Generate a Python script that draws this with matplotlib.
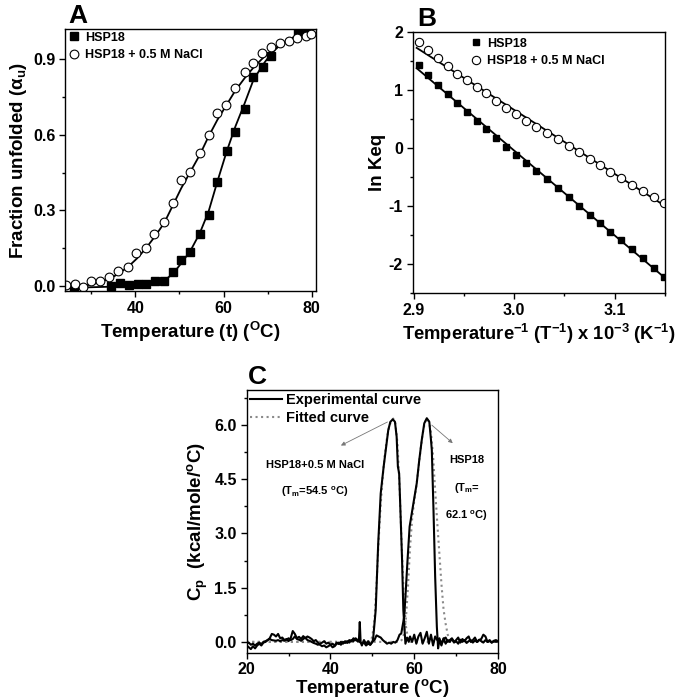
import matplotlib
matplotlib.use('Agg')
import matplotlib.pyplot as plt
from matplotlib.ticker import MultipleLocator, FormatStrFormatter

plt.rcParams['font.family'] = ['Liberation Sans', 'DejaVu Sans']
plt.rcParams['font.weight'] = 'bold'
plt.rcParams['mathtext.fontset'] = 'custom'
plt.rcParams['mathtext.rm'] = 'Liberation Sans:bold'
plt.rcParams['mathtext.it'] = 'Liberation Sans:bold'
plt.rcParams['mathtext.bf'] = 'Liberation Sans:bold'
plt.rcParams['mathtext.default'] = 'rm'
plt.rcParams['axes.unicode_minus'] = False

# ---- panel A : fraction unfolded ----
a_temp_sq = [26.1, 34.4, 36.4, 38.5, 40.5, 42.5, 44.5, 46.5, 48.5, 50.4, 52.5, 54.6, 56.6,
             58.6, 60.7, 62.7, 64.8, 66.8, 68.9, 70.9, 76.9, 78.9]
a_hsp18 = [-0.01, 0.001, 0.011, 0.004, 0.009, 0.007, 0.020, 0.021, 0.057, 0.102, 0.136, 0.205,
           0.282, 0.414, 0.535, 0.610, 0.701, 0.828, 0.871, 0.913, 1.007, 1.0]
a_temp_ci = [24.3, 26.2, 28.1, 30.0, 32.0, 34.1, 36.1, 38.2, 40.2, 42.3, 44.2, 46.4, 48.5,
             50.4, 52.5, 54.6, 56.6, 58.6, 60.6, 62.7, 64.8, 66.8, 68.8, 70.8, 72.8, 74.8,
             76.8, 78.8, 79.8]
a_nacl = [0.004, 0.008, -0.003, 0.021, 0.021, 0.037, 0.061, 0.074, 0.130, 0.150, 0.206, 0.255,
          0.331, 0.421, 0.454, 0.527, 0.600, 0.686, 0.719, 0.785, 0.851, 0.887, 0.926, 0.950,
          0.963, 0.974, 0.984, 0.994, 1.0]
# fitted curves
a_fit_t = [24.0, 26.0, 28.2, 30.2, 32.2, 34.3, 36.3, 38.4, 40.4, 42.4, 44.4, 46.5, 48.5, 50.4,
           52.5, 54.6, 56.6, 58.6, 60.7, 62.7, 64.8, 66.8, 68.9, 70.9, 72.9, 74.9, 76.9, 80.0]
a_fit_nacl = [-0.009, -0.005, 0.0, 0.007, 0.016, 0.03, 0.05, 0.077, 0.11, 0.15, 0.196, 0.249,
              0.32, 0.388, 0.454, 0.52, 0.593, 0.659, 0.719, 0.776, 0.825, 0.867, 0.904, 0.934,
              0.957, 0.974, 0.987, 1.0]
a_fit_hsp18 = [None, -0.008, -0.006, -0.005, -0.004, -0.003, -0.002, 0.0, 0.001, 0.005, 0.011,
               0.021, 0.048, 0.09, 0.14, 0.209, 0.295, 0.414, 0.533, 0.633, 0.725, 0.818,
               0.877, 0.924, 0.957, 0.979, 0.996, 1.01]

# ---- panel B : van 't Hoff ----
b_inv_t = [2.9054, 2.9146, 2.9245, 2.9339, 2.9434, 2.9530, 2.9627, 2.9722, 2.9818, 2.9918,
           3.0014, 3.0113, 3.0222, 3.0328, 3.0437, 3.0543, 3.0646, 3.0752, 3.0854, 3.0957,
           3.1059, 3.1169, 3.1281, 3.1387, 3.1490]
b_hsp18 = [1.433, 1.249, 1.089, 0.923, 0.773, 0.619, 0.464, 0.316, 0.161, 0.017, -0.125,
           -0.258, -0.395, -0.543, -0.698, -0.842, -1.002, -1.151, -1.299, -1.443, -1.586,
           -1.735, -1.900, -2.062, -2.227]
b_nacl = [1.821, 1.690, 1.553, 1.409, 1.278, 1.163, 1.038, 0.935, 0.802, 0.687, 0.574, 0.464,
          0.361, 0.258, 0.144, 0.029, -0.079, -0.194, -0.297, -0.412, -0.526, -0.641, -0.739,
          -0.842, -0.945]
b_line_x = [2.903, 3.150]
b_line_hsp18 = [1.37, -2.24]
b_line_nacl = [1.72, -1.00]

# ---- panel C : DSC ----
c_t_nacl = [20, 20.5, 21, 21.5, 22, 22.5, 23, 23.5, 24, 24.5, 25, 25.5, 26, 26.5, 27, 27.5, 28,
            28.5, 29, 29.5, 30, 30.5, 31, 31.5, 32, 32.5, 33, 33.5, 34, 34.5, 35, 35.5, 36,
            36.5, 37, 37.5, 38, 38.5, 39, 39.5, 40, 40.5, 41, 41.5, 42, 42.5, 43, 43.5, 44,
            44.5, 45, 45.5, 46, 46.5, 46.8, 47.0, 47.2, 47.5, 48, 48.5, 49, 49.5, 50, 50.2,
            50.8, 51.4, 52.0, 52.7, 53.3, 53.8, 54.3, 54.9, 55.4, 55.8, 56.1, 56.4, 56.7, 57.1,
            57.4, 57.7, 57.9, 58.3, 58.7, 59, 59.5, 60, 60.5, 61, 61.5, 62, 62.5, 63, 63.5, 64,
            64.5, 65, 65.5, 66, 66.5, 67, 67.5, 68, 68.5, 69, 69.5, 70, 70.5, 71, 71.5, 72,
            72.5, 73, 73.5, 74, 74.5, 75, 75.5, 76, 76.5, 77, 77.5, 78, 78.5, 79, 79.5, 80]
c_cp_nacl = [-0.10, -0.15, -0.20, -0.12, -0.18, -0.10, -0.05, -0.10, -0.02, 0.00, 0.05, 0.10,
             0.22, 0.20, 0.15, 0.22, 0.10, 0.12, 0.05, 0.08, 0.02, 0.10, 0.30, 0.22, 0.10,
             0.14, 0.08, 0.16, 0.10, 0.15, 0.12, 0.08, 0.02, 0.05, -0.02, -0.08, -0.12, -0.10,
             -0.15, -0.12, -0.08, -0.05, -0.10, -0.02, -0.06, 0.00, -0.05, 0.02, -0.03, 0.05,
             0.02, 0.10, 0.05, 0.02, 0.05, 0.55, 0.0, -0.10, 0.05, -0.05, 0.02, -0.08, 0.0,
             0.10, 0.88, 2.72, 4.11, 4.85, 5.40, 5.86, 6.09, 6.16, 6.09, 5.68, 4.85, 4.66,
             3.65, 2.26, 0.88, 0.32, -0.05, 0.12, 0.0, 0.15, 0.0, 0.20, -0.05, 0.15, 0.25,
             -0.05, 0.10, 0.28, -0.05, 0.20, -0.10, 0.15, 0.05, 0.10, -0.05, 0.08, 0.12, 0.0,
             0.05, 0.10, 0.0, 0.05, 0.12, -0.02, 0.08, 0.02, 0.10, 0.15, 0.0, 0.05, 0.12, 0.0,
             0.05, 0.08, 0.20, 0.15, 0.0, 0.05, -0.02, 0.03, 0.05, 0.02]
c_t_hsp18 = [20, 20.5, 21, 21.5, 22, 22.5, 23, 23.5, 24, 24.5, 25, 25.5, 26, 26.5, 27, 27.5, 28,
             28.5, 29, 29.5, 30, 30.5, 31, 31.5, 32, 32.5, 33, 33.5, 34, 34.5, 35, 35.5, 36,
             36.5, 37, 37.5, 38, 38.5, 39, 39.5, 40, 40.5, 41, 41.5, 42, 42.5, 43, 43.5, 44,
             44.5, 45, 45.5, 46, 46.5, 47, 47.5, 48, 48.5, 49, 49.5, 50, 50.5, 51, 51.5, 52,
             52.5, 53, 53.5, 54, 54.5, 55, 55.5, 56, 56.5, 56.9, 57.6, 57.9, 58.4, 58.9, 59.8,
             60.6, 61.2, 61.8, 62.4, 63.0, 63.6, 64.0, 64.2, 64.6, 65.0, 65.4, 65.7, 66, 66.5,
             67, 67.5, 68, 68.5, 69, 69.5, 70, 70.5, 71, 71.5, 72, 72.5, 73, 73.5, 74, 74.5,
             75, 75.5, 76, 76.5, 77, 77.5, 78, 78.5, 79, 79.5, 80]
c_cp_hsp18 = [-0.05, -0.02, -0.08, -0.05, -0.10, -0.05, -0.02, -0.06, 0.0, 0.02, 0.05, 0.08,
              0.05, 0.04, 0.03, 0.05, 0.02, 0.05, 0.03, 0.06, 0.10, 0.05, 0.08, 0.15, 0.08,
              0.06, 0.03, 0.08, 0.12, 0.05, 0.03, 0.0, -0.03, -0.05, -0.08, -0.05, -0.02, 0.02,
              -0.05, -0.02, -0.08, -0.15, -0.12, -0.05, -0.02, -0.08, 0.0, -0.03, 0.02, -0.02,
              0.05, 0.02, 0.10, 0.05, 0.0, -0.05, -0.02, -0.10, -0.05, -0.08, 0.0, 0.05, 0.18,
              0.15, 0.12, 0.05, 0.0, -0.05, -0.02, -0.05, 0.0, -0.02, 0.05, 0.20, 0.23, 0.69,
              1.25, 2.26, 3.19, 3.83, 4.39, 5.03, 5.59, 6.05, 6.19, 6.09, 5.59, 5.31, 3.65, 1.80,
              0.42, -0.18, 0.05, -0.10, 0.10, -0.05, 0.05, 0.0, 0.08, -0.02, 0.02, -0.05, 0.06,
              0.0, 0.05, -0.03, 0.02, 0.05, -0.02, 0.04, 0.0, 0.06, 0.02, -0.02, 0.05, 0.0, 0.03,
              -0.02, 0.02, 0.0, 0.01]
c_fit_t_nacl = [20, 49.5, 50.0, 50.5, 51.0, 51.5, 52.0, 52.5, 53.0, 53.5, 54.0, 54.5, 55.0,
                55.5, 56.0, 56.5, 57.0, 57.5, 58.0, 58.5, 59.0, 80]
c_fit_nacl = [0, 0, 0.15, 0.6, 1.6, 2.8, 3.8, 4.6, 5.2, 5.65, 5.95, 6.12, 6.18, 6.05, 5.5, 4.3,
              2.7, 1.3, 0.45, 0.1, 0.0, 0]
c_fit_t_hsp18 = [20, 56.5, 57.0, 57.5, 58.0, 58.5, 59.0, 59.5, 60.0, 60.5, 61.0, 61.5, 62.0,
                 62.5, 63.0, 63.5, 64.0, 64.5, 65.0, 65.5, 66.0, 66.5, 67.0, 67.5, 68.0, 68.5,
                 69.0, 80]
c_fit_hsp18 = [0, 0, 0.05, 0.2, 0.6, 1.5, 2.6, 3.4, 3.9, 4.3, 4.8, 5.3, 5.75, 6.05, 6.18, 6.1,
               5.8, 5.15, 4.2, 3.3, 2.45, 1.6, 0.9, 0.5, 0.2, 0.05, 0.0, 0]

TICK_FS = 11.5
LABEL_FS = 13.5


def style_axes(ax):
    for s in ax.spines.values():
        s.set_linewidth(1.0)
    ax.tick_params(which='both', direction='out', top=False, right=False, width=1.0,
                   labelsize=TICK_FS, pad=2.5)
    ax.tick_params(which='major', length=4.5)
    ax.tick_params(which='minor', length=2.5)
    for lab in ax.get_xticklabels() + ax.get_yticklabels():
        lab.set_fontweight('bold')


fig = plt.figure(figsize=(6.82, 6.99), dpi=100)

# panel A
axA = fig.add_axes([0.0953, 0.5837, 0.368, 0.3748])
axA.plot(a_fit_t, [v if v is not None else float('nan') for v in a_fit_hsp18], color='black', lw=1.3)
axA.plot(a_fit_t, a_fit_nacl, color='black', lw=1.3)
axA.plot(a_temp_sq, a_hsp18, ls='none', marker='s', ms=5.5, color='black', label='HSP18')
axA.plot(a_temp_ci, a_nacl, ls='none', marker='o', ms=6.3, mfc='white', mec='black', mew=0.8,
         label='HSP18 + 0.5 M NaCl')
axA.set_xlim(24, 81)
axA.set_ylim(-0.02, 1.02)
axA.xaxis.set_major_locator(MultipleLocator(20))
axA.xaxis.set_minor_locator(MultipleLocator(10))
axA.yaxis.set_major_locator(MultipleLocator(0.3))
axA.yaxis.set_minor_locator(MultipleLocator(0.15))
axA.yaxis.set_major_formatter(FormatStrFormatter('%.1f'))
axA.set_xlabel('Temperature (t) ($^{O}$C)', fontsize=LABEL_FS, fontweight='bold', labelpad=3)
axA.set_ylabel(r'Fraction unfolded ($\alpha_{u}$)', fontsize=LABEL_FS, fontweight='bold',
               labelpad=3)
axA.legend(loc='upper left', frameon=False, borderaxespad=0.1, handletextpad=0.4,
           borderpad=0.1, labelspacing=0.45, handlelength=1.0, prop={'weight': 'bold', 'size': 9})
style_axes(axA)

# panel B
axB = fig.add_axes([0.605, 0.5808, 0.370, 0.374])
axB.plot(b_line_x, b_line_hsp18, color='black', lw=1.3)
axB.plot(b_line_x, b_line_nacl, color='black', lw=1.3)
axB.plot(b_inv_t, b_hsp18, ls='none', marker='s', ms=5.0, color='black', label='HSP18')
axB.plot(b_inv_t, b_nacl, ls='none', marker='o', ms=6.0, mfc='white', mec='black', mew=0.8,
         label='HSP18 + 0.5 M NaCl')
axB.set_xlim(2.899, 3.15)
axB.set_ylim(-2.5, 2.0)
axB.xaxis.set_major_locator(MultipleLocator(0.1))
axB.xaxis.set_minor_locator(MultipleLocator(0.05))
axB.xaxis.set_major_formatter(FormatStrFormatter('%.1f'))
axB.yaxis.set_major_locator(MultipleLocator(1))
axB.yaxis.set_minor_locator(MultipleLocator(0.5))
axB.set_xlabel('Temperature$^{-1}$ (T$^{-1}$) x 10$^{-3}$ (K$^{-1}$)', fontsize=13.2,
               fontweight='bold', labelpad=3)
axB.set_ylabel('ln Keq', fontsize=LABEL_FS, fontweight='bold', labelpad=2)
axB.legend(loc='upper left', bbox_to_anchor=(0.2, 1.0), frameon=False, borderaxespad=0.3,
           handletextpad=0.4, borderpad=0.2, labelspacing=0.45, handlelength=1.0,
           prop={'weight': 'bold', 'size': 9})
style_axes(axB)

# panel C
axC = fig.add_axes([0.3617, 0.0662, 0.3685, 0.3758])
axC.plot(c_fit_t_nacl, c_fit_nacl, color='#8a8a8a', ls=':', lw=1.5)
axC.plot(c_fit_t_hsp18, c_fit_hsp18, color='#8a8a8a', ls=':', lw=1.5, label='Fitted curve')
axC.plot(c_t_nacl, c_cp_nacl, color='black', lw=1.5)
axC.plot(c_t_hsp18, c_cp_hsp18, color='black', lw=1.5, label='Experimental curve')
axC.set_xlim(20, 80)
axC.set_ylim(-0.3, 6.97)
axC.xaxis.set_major_locator(MultipleLocator(20))
axC.xaxis.set_minor_locator(MultipleLocator(10))
axC.yaxis.set_major_locator(MultipleLocator(1.5))
axC.yaxis.set_minor_locator(MultipleLocator(0.75))
axC.yaxis.set_major_formatter(FormatStrFormatter('%.1f'))
axC.set_xlabel('Temperature ($^{o}$C)', fontsize=LABEL_FS, fontweight='bold', labelpad=0)
axC.set_ylabel('C$_{p}$  (kcal/mole/$^{o}$C)', fontsize=LABEL_FS, fontweight='bold',
               labelpad=3)
h, l = axC.get_legend_handles_labels()
axC.legend(h[::-1], l[::-1], loc='upper left', frameon=False, borderaxespad=0.1,
           handletextpad=0.3, borderpad=0.1, labelspacing=0.25, handlelength=2.2,
           prop={'weight': 'bold', 'size': 10.5})
arrow = dict(arrowstyle='-|>', color='#777777', lw=0.6, mutation_scale=6)
axC.annotate('', xy=(41.9, 5.40), xytext=(54.2, 6.12), arrowprops=arrow)
axC.annotate('', xy=(69.7, 5.45), xytext=(63.7, 6.05), arrowprops=arrow)
axC.text(36.3, 4.89, 'HSP18+0.5 M NaCl', ha='center', va='center', fontsize=8, fontweight='bold')
axC.text(36.3, 4.15, '(T$_{m}$=54.5 $^{o}$C)', ha='center', va='center', fontsize=8,
         fontweight='bold')
axC.text(72.5, 5.03, 'HSP18', ha='center', va='center', fontsize=8, fontweight='bold')
axC.text(72.5, 4.25, '(T$_{m}$=', ha='center', va='center', fontsize=8, fontweight='bold')
axC.text(72.5, 3.50, '62.1 $^{o}$C)', ha='center', va='center', fontsize=8, fontweight='bold')
style_axes(axC)

fig.text(0.100, 0.967, 'A', fontsize=19, fontweight='bold', va='baseline')
fig.text(0.612, 0.963, 'B', fontsize=19, fontweight='bold', va='baseline')
fig.text(0.364, 0.450, 'C', fontsize=19, fontweight='bold', va='baseline')

fig.savefig('out.png', dpi=100)
